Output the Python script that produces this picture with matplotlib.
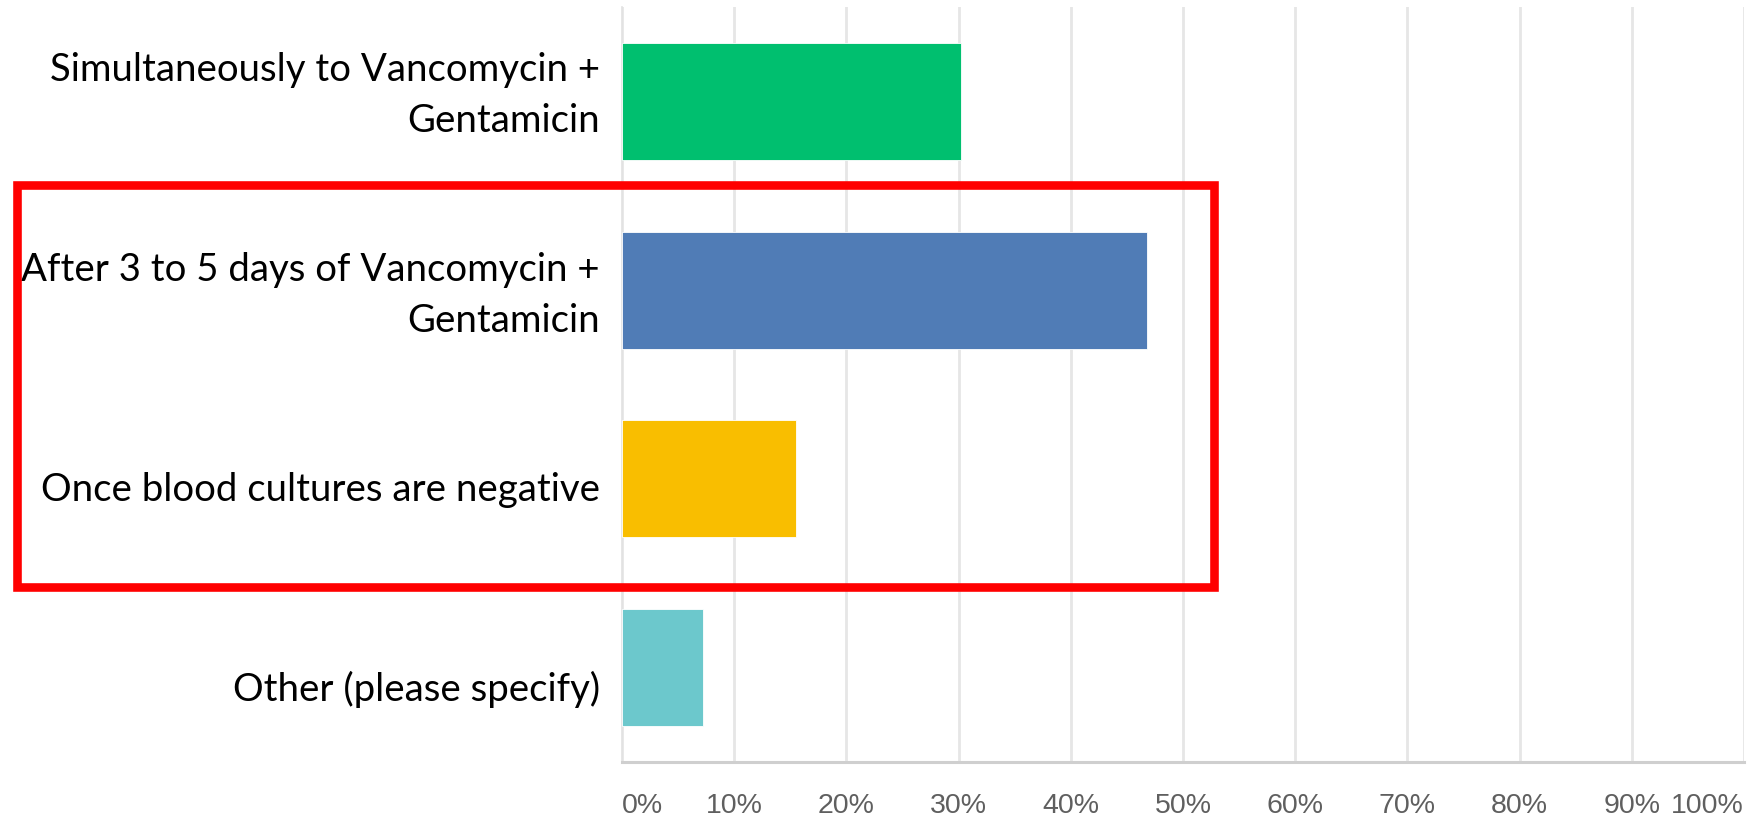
import matplotlib.pyplot as plt
from matplotlib.patches import Rectangle
from matplotlib.ticker import FixedLocator
from matplotlib.transforms import ScaledTranslation

categories = [
    "Simultaneously to Vancomycin +\nGentamicin",
    "After 3 to 5 days of Vancomycin +\nGentamicin",
    "Once blood cultures are negative",
    "Other (please specify)",
]
shares = [30.2, 46.8, 15.5, 7.2]
bar_colors = ["#00bf6f", "#507cb6", "#f9be00", "#6cc8cc"]
tick_values = [0, 10, 20, 30, 40, 50, 60, 70, 80, 90, 100]
tick_labels = [f"{v}%" for v in tick_values]

fig = plt.figure(figsize=(17.55, 8.19), dpi=100)
ax = fig.add_axes([622 / 1755, 1 - 762 / 819, (1744 - 622) / 1755, (762 - 7) / 819])

ypos = list(range(len(categories)))
ax.barh(ypos, shares, height=0.62, color=bar_colors, edgecolor="white",
        linewidth=0.6, zorder=3)
ax.set_ylim(len(categories) - 0.5, -0.5)
ax.set_xlim(0, 100)

# light vertical gridlines, no frame except the base line
ax.xaxis.set_major_locator(FixedLocator(tick_values))
ax.grid(axis="x", color="#e6e6e6", linewidth=2, zorder=0)
for side in ["top", "right"]:
    ax.spines[side].set_visible(False)
ax.spines["left"].set_color("#e2e2e2")
ax.spines["left"].set_linewidth(1.2)
ax.spines["bottom"].set_color("#cfcfcf")
ax.spines["bottom"].set_linewidth(2.2)

ax.set_yticks(ypos)
ax.set_yticklabels(categories, fontsize=27.6, family="Lato", ha="right",
                   multialignment="right", linespacing=1.53)
ax.tick_params(axis="y", length=0, pad=16)
# nudge the labels vertically (pixels, positive is up)
for lab, dy in zip(ax.get_yticklabels(), [17, 6, -8, -18]):
    lab.set_transform(lab.get_transform() + ScaledTranslation(0, dy / 100, fig.dpi_scale_trans))

ax.set_xticks(tick_values)
ax.set_xticklabels(tick_labels, fontsize=20.5, family="Liberation Sans",
                   color="#5f5f5f")
ax.tick_params(axis="x", length=0, pad=22)
xlabels = ax.get_xticklabels()
xlabels[0].set_ha("left")
xlabels[-1].set_ha("right")

# red highlight frame around the middle two answers
frame = Rectangle((17 / 1755, 1 - 587 / 819), (1214 - 17) / 1755, (587 - 184.5) / 819,
                  transform=fig.transFigure, fill=False, edgecolor="#ff0000",
                  linewidth=6.2, zorder=10, clip_on=False)
fig.patches.append(frame)

fig.savefig("out.png", dpi=100, facecolor="white")
